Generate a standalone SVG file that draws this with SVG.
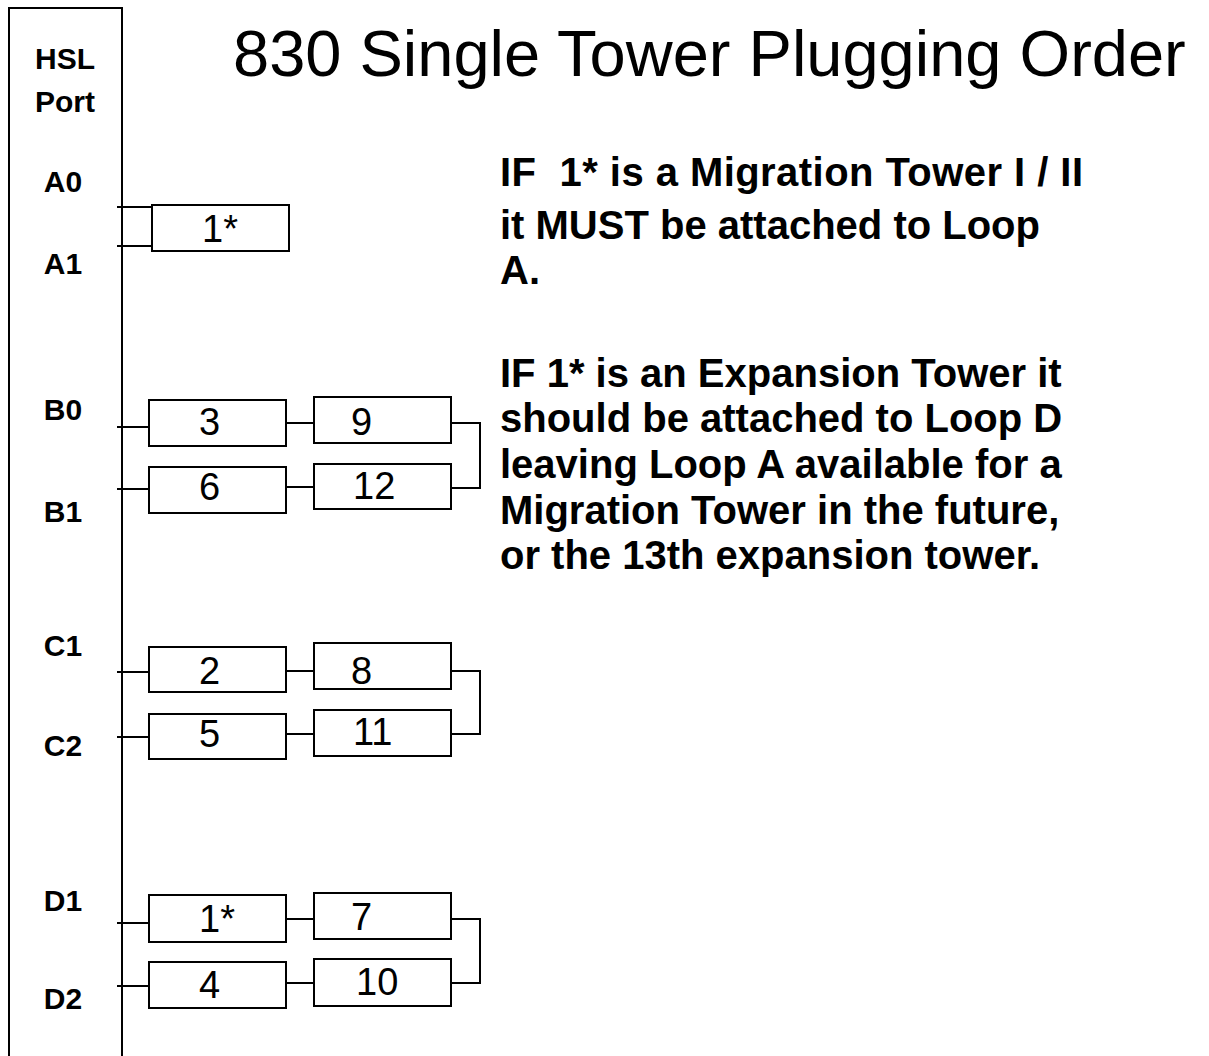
<svg xmlns="http://www.w3.org/2000/svg" width="1209" height="1056" viewBox="0 0 1209 1056">
<style>
.box{fill:#fff;stroke:#000;stroke-width:2}
.ln{fill:none;stroke:#000;stroke-width:2}
.num{font-family:"Liberation Sans",Arial,sans-serif;font-size:38px;fill:#000}
.port{font-family:"Liberation Sans",Arial,sans-serif;font-size:30px;font-weight:bold;fill:#000;text-anchor:middle}
.note{font-family:"Liberation Sans",Arial,sans-serif;font-size:40px;font-weight:bold;fill:#000;white-space:pre}
.title{font-family:"Liberation Sans",Arial,sans-serif;font-size:65px;fill:#000}
</style>
<rect width="1209" height="1056" fill="#fff"/>
<g id="port-panel">
<path class="ln" d="M9,1056 V8 H122 V1056"/>
<text class="port" x="65" y="69">HSL</text>
<text class="port" x="65" y="112">Port</text>
<text class="port" x="63" y="192">A0</text>
<text class="port" x="63" y="274">A1</text>
<text class="port" x="63" y="420">B0</text>
<text class="port" x="63" y="522">B1</text>
<text class="port" x="63" y="656">C1</text>
<text class="port" x="63" y="756">C2</text>
<text class="port" x="63" y="911">D1</text>
<text class="port" x="63" y="1009">D2</text>
</g>
<text id="title" class="title" x="233" y="76">830 Single Tower Plugging Order</text>
<g id="note1">
<text class="note" x="500" y="186" textLength="583" lengthAdjust="spacing">IF  1* is a Migration Tower I / II</text>
<text class="note" x="500" y="239">it MUST be attached to Loop</text>
<text class="note" x="500" y="284">A.</text>
</g>
<g id="note2">
<text class="note" x="500" y="387">IF 1* is an Expansion Tower it</text>
<text class="note" x="500" y="432">should be attached to Loop D</text>
<text class="note" x="500" y="478">leaving Loop A available for a</text>
<text class="note" x="500" y="524">Migration Tower in the future,</text>
<text class="note" x="500" y="569">or the 13th expansion tower.</text>
</g>
<g id="connectors">
<path class="ln" d="M117,207 H152 M117,246 H152"/>
<path class="ln" d="M117,427 H149 M282,423 H314 M444,423 H480 V488 H448 M282,487 H314 M117,489 H149"/>
<path class="ln" d="M117,672 H149 M282,671 H314 M444,671 H480 V734 H448 M282,734 H314 M117,737 H149"/>
<path class="ln" d="M117,923 H149 M282,919 H314 M444,919 H480 V983 H448 M282,983 H314 M117,986 H149"/>
</g>
<g id="tower-1a"><rect class="box" x="152" y="205" width="137" height="46"/><text class="num" x="202" y="242">1*</text></g>
<g id="tower-3"><rect class="box" x="149" y="400" width="137" height="46"/><text class="num" x="199" y="435">3</text></g>
<g id="tower-9"><rect class="box" x="314" y="397" width="137" height="46"/><text class="num" x="351" y="435">9</text></g>
<g id="tower-6"><rect class="box" x="149" y="467" width="137" height="46"/><text class="num" x="199" y="500">6</text></g>
<g id="tower-12"><rect class="box" x="314" y="464" width="137" height="45"/><text class="num" x="353" y="499">12</text></g>
<g id="tower-2"><rect class="box" x="149" y="647" width="137" height="45"/><text class="num" x="199" y="684">2</text></g>
<g id="tower-8"><rect class="box" x="314" y="643" width="137" height="46"/><text class="num" x="351" y="684">8</text></g>
<g id="tower-5"><rect class="box" x="149" y="714" width="137" height="45"/><text class="num" x="199" y="747">5</text></g>
<g id="tower-11"><rect class="box" x="314" y="710" width="137" height="46"/><text class="num" x="353" y="745">11</text></g>
<g id="tower-1d"><rect class="box" x="149" y="895" width="137" height="47"/><text class="num" x="199" y="932">1*</text></g>
<g id="tower-7"><rect class="box" x="314" y="893" width="137" height="46"/><text class="num" x="351" y="930">7</text></g>
<g id="tower-4"><rect class="box" x="149" y="962" width="137" height="46"/><text class="num" x="199" y="998">4</text></g>
<g id="tower-10"><rect class="box" x="314" y="959" width="137" height="47"/><text class="num" x="356" y="995">10</text></g>
</svg>
